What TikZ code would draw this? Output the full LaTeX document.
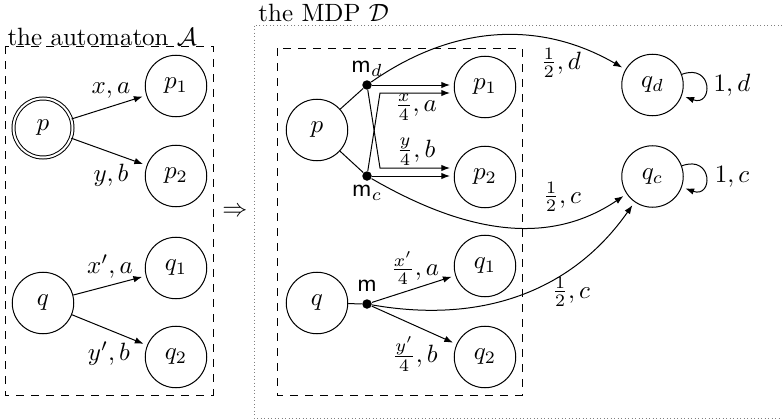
\documentclass[tikz,border=0pt]{standalone}
\usetikzlibrary{arrows.meta}
\begin{document}
\begin{tikzpicture}[x=0.4pt,y=-0.4pt,
  st/.style={circle,draw,minimum size=24.6pt,inner sep=0pt},
  acc/.style={circle,draw,double,double distance=0.8pt,minimum size=23.6pt,inner sep=0pt},
  dotn/.style={circle,fill,inner sep=0pt,minimum size=3.8pt},
  arr/.style={-{Latex[length=3.5pt,width=2.6pt]},shorten >=1.5pt},
  lbl/.style={inner sep=0pt},
  dashbox/.style={dashed},
  dotbox/.style={densely dotted,gray}]
\useasboundingbox (0,0) rectangle (782,420);

% ---------- the automaton ----------
\draw[dashbox] (5,46) rectangle (213,395);
\node[lbl,anchor=base west] (tA) at (7,45) {the automaton $\mathcal{A}$};
\node[acc] (Ap)  at (43,128) {$p$};
\node[st]  (Ap1) at (176,86) {$p_1$};
\node[st]  (Ap2) at (176,176) {$p_2$};
\node[st]  (Aq)  at (43,303) {$q$};
\node[st]  (Aq1) at (176,268) {$q_1$};
\node[st]  (Aq2) at (176,357) {$q_2$};
\draw[arr] (Ap) -- (Ap1);
\draw[arr] (Ap) -- (Ap2);
\draw[arr] (Aq) -- (Aq1);
\draw[arr] (Aq) -- (Aq2);
\node[lbl] (lA1) at (111,91)  {$x,a$};
\node[lbl] (lA2) at (111,175) {$y,b$};
\node[lbl] (lA3) at (110,267) {$x',a$};
\node[lbl] (lA4) at (109,354) {$y',b$};

\node[lbl] (imp) at (235,212) {$\Rightarrow$};

% ---------- the MDP ----------
\draw[dotbox] (782,25) -- (254,25) -- (254,418) -- (782,418);
\node[lbl,anchor=base west] (tD) at (258,22) {the MDP $\mathcal{D}$};
\draw[dashbox] (277,48) rectangle (522,395);

\node[st] (Mp)  at (317,130) {$p$};
\node[st] (Mp1) at (485,87)  {$p_1$};
\node[st] (Mp2) at (485,177) {$p_2$};
\node[st] (Mq)  at (317,303) {$q$};
\node[st] (Mq1) at (485,266) {$q_1$};
\node[st] (Mq2) at (485,357) {$q_2$};
\node[st] (qd)  at (652.5,85)  {$q_d$};
\node[st] (qc)  at (652.5,176.5) {$q_c$};

\node[dotn] (md) at (367,85)  {};
\node[dotn] (mc) at (367,176) {};
\node[dotn] (m)  at (367,304) {};
\node[lbl] (lmd) at (367,69)  {$\mathsf{m}_d$};
\node[lbl] (lmc) at (367,193) {$\mathsf{m}_c$};
\node[lbl] (lm)  at (367,286) {$\mathsf{m}$};

\coordinate (cu) at (380,93);
\coordinate (cd) at (380,168);

\draw (Mp) -- (md);
\draw (Mp) -- (mc);
\draw[arr] (md) -- (md -| Mp1.west);
\draw[arr] (mc) -- (cu) -- (cu -| Mp1.west);
\draw[arr] (md) -- (cd) -- (cd -| Mp2.west);
\draw[arr] (mc) -- (mc -| Mp2.west);
\draw[arr] (md) to[out=35,in=150] (qd);
\draw[arr] (mc) to[out=-30,in=214] (qc);

\draw (Mq) -- (m);
\draw[arr] (m) -- (Mq1);
\draw[arr] (m) -- (Mq2);
\draw[arr] (m) to[out=-10,in=235] (qc);

\draw[arr] (qd) to[out=20,in=-20,looseness=4] (qd);
\draw[arr] (qc) to[out=20,in=-20,looseness=4] (qc);

\node[lbl] (l1) at (416,107) {$\frac{x}{4},a$};
\node[lbl] (l2) at (416,152) {$\frac{y}{4},b$};
\node[lbl] (l3) at (415,268) {$\frac{x'}{4},a$};
\node[lbl] (l4) at (415,354) {$\frac{y'}{4},b$};
\node[lbl] (l5) at (561,63)  {$\frac{1}{2},d$};
\node[lbl] (l6) at (562,197) {$\frac{1}{2},c$};
\node[lbl] (l7) at (571,292) {$\frac{1}{2},c$};
\node[lbl] (l8) at (732,85)  {$1,d$};
\node[lbl] (l9) at (732,177) {$1,c$};
\end{tikzpicture}
\end{document}
